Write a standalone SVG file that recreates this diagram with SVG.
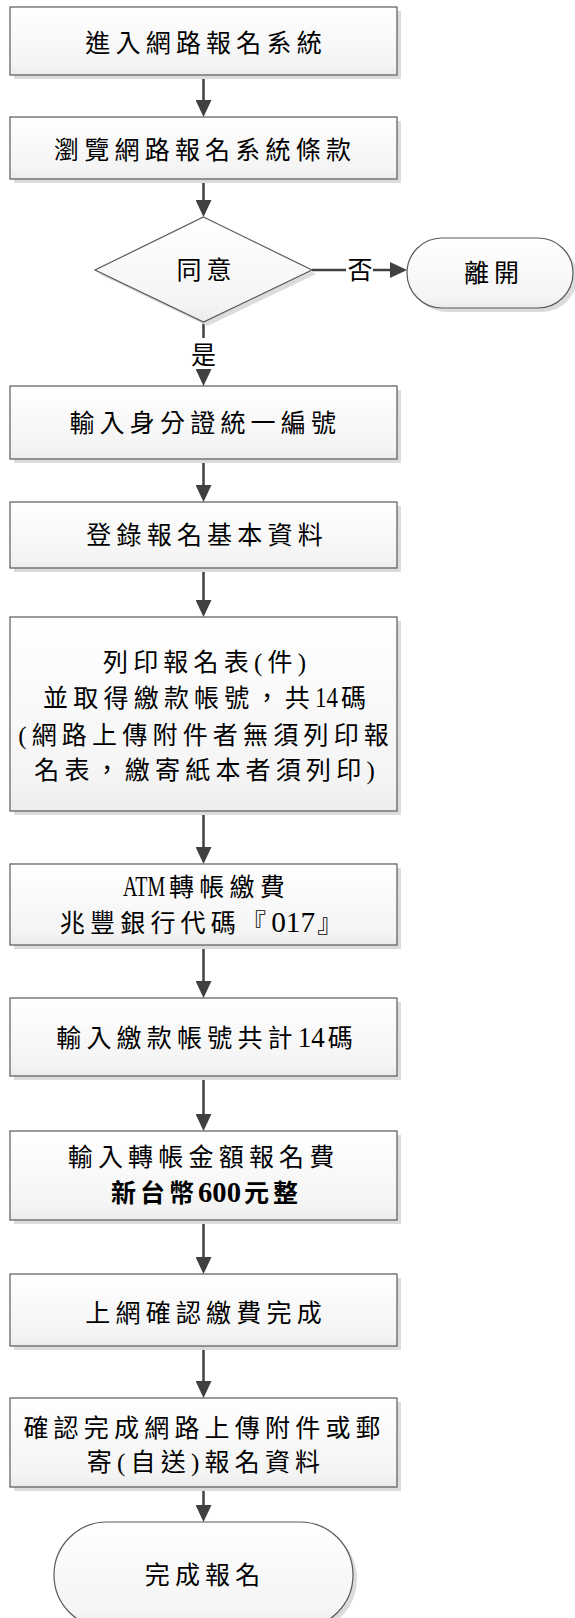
<svg xmlns="http://www.w3.org/2000/svg" width="575" height="1618" viewBox="0 0 575 1618">
<defs>
<linearGradient id="g" x1="0" y1="0" x2="0" y2="1">
<stop offset="0" stop-color="#ffffff"/>
<stop offset="0.85" stop-color="#f4f4f4"/>
<stop offset="1" stop-color="#ebebeb"/>
</linearGradient>
<marker id="ah" viewBox="0 0 17 16" refX="14" refY="8" markerWidth="17" markerHeight="16" markerUnits="userSpaceOnUse" orient="auto">
<path d="M0,0 L17,8 L0,16 z" fill="#404040"/>
</marker>
</defs>
<style>
.box{fill:url(#g);stroke:#595959;stroke-width:1.2}
.sh{fill:#dcdcdc}
.t{font-family:"Liberation Serif","Noto Sans CJK TC",serif;font-size:25px;letter-spacing:5.2px;fill:#000;text-anchor:middle}
.b{font-weight:bold;letter-spacing:4px}
.l{font-size:30px;letter-spacing:0}
.c{fill:none;stroke:#404040;stroke-width:2.5}
</style>
<rect width="575" height="1618" fill="#ffffff"/>

<g id="connectors">
<path class="c" d="M203.5,75 V114" marker-end="url(#ah)"/>
<path class="c" d="M203.5,179 V214" marker-end="url(#ah)"/>
<path class="c" d="M312,270 H346"/>
<path class="c" d="M373,270 H404" marker-end="url(#ah)"/>
<text class="t" x="362.6" y="279">否</text>
<path class="c" d="M203.5,322 V338"/>
<text class="t" x="206.1" y="364">是</text>
<path class="c" d="M203.5,369 V383" marker-end="url(#ah)"/>
<path class="c" d="M203.5,459 V499" marker-end="url(#ah)"/>
<path class="c" d="M203.5,568 V614" marker-end="url(#ah)"/>
<path class="c" d="M203.5,811 V861" marker-end="url(#ah)"/>
<path class="c" d="M203.5,945 V995" marker-end="url(#ah)"/>
<path class="c" d="M203.5,1076 V1128" marker-end="url(#ah)"/>
<path class="c" d="M203.5,1220 V1271" marker-end="url(#ah)"/>
<path class="c" d="M203.5,1346 V1395" marker-end="url(#ah)"/>
<path class="c" d="M203.5,1487 V1519" marker-end="url(#ah)"/>
</g>

<g id="n1">
<rect class="sh" x="14" y="11" width="387" height="68"/>
<rect class="box" x="10" y="7" width="387" height="68"/>
<text class="t" x="206.1" y="52">進入網路報名系統</text>
</g>
<g id="n2">
<rect class="sh" x="14" y="121" width="387" height="62"/>
<rect class="box" x="10" y="117" width="387" height="62"/>
<text class="t" x="205.1" y="159">瀏覽網路報名系統條款</text>
</g>
<g id="n3">
<path class="sh" d="M207.5,221 L316,274 L207.5,326 L99,274 z"/>
<path class="box" d="M203.5,217 L312,270 L203.5,322 L95,270 z"/>
<text class="t" x="206.6" y="279">同意</text>
</g>
<g id="n4">
<rect class="sh" x="411" y="242" width="166" height="70" rx="35"/>
<rect class="box" x="407" y="238" width="166" height="70" rx="35"/>
<text class="t" x="494.1" y="282">離開</text>
</g>
<g id="n5">
<rect class="sh" x="14" y="390" width="387" height="73"/>
<rect class="box" x="10" y="386" width="387" height="73"/>
<text class="t" x="205.3" y="432">輸入身分證統一編號</text>
</g>
<g id="n6">
<rect class="sh" x="14" y="506" width="387" height="66"/>
<rect class="box" x="10" y="502" width="387" height="66"/>
<text class="t" x="207.1" y="544">登錄報名基本資料</text>
</g>
<g id="n7">
<rect class="sh" x="14" y="621" width="387" height="194"/>
<rect class="box" x="10" y="617" width="387" height="194"/>
<text class="t" x="207.1" y="671">列印報名表(件)</text>
<text class="t" x="207.1" y="707">並取得繳款帳號，共<tspan class="l" textLength="23" lengthAdjust="spacingAndGlyphs">14</tspan><tspan dx="3">碼</tspan></text>
<text class="t" x="206.1" y="744">(網路上傳附件者無須列印報</text>
<text class="t" x="207.1" y="779">名表，繳寄紙本者須列印)</text>
</g>
<g id="n8">
<rect class="sh" x="14" y="868" width="387" height="81"/>
<rect class="box" x="10" y="864" width="387" height="81"/>
<text class="t" x="206.5" y="896"><tspan class="l" textLength="42" lengthAdjust="spacingAndGlyphs">ATM</tspan><tspan dx="4">轉帳繳費</tspan></text>
<text class="t" x="203.6" y="932">兆豐銀行代碼『<tspan class="l" textLength="44" lengthAdjust="spacingAndGlyphs">017</tspan><tspan dx="2">』</tspan></text>
</g>
<g id="n9">
<rect class="sh" x="14" y="1002" width="387" height="78"/>
<rect class="box" x="10" y="998" width="387" height="78"/>
<text class="t" x="207.1" y="1047">輸入繳款帳號共計<tspan class="l" textLength="27" lengthAdjust="spacingAndGlyphs">14</tspan><tspan dx="3">碼</tspan></text>
</g>
<g id="n10">
<rect class="sh" x="14" y="1135" width="387" height="89"/>
<rect class="box" x="10" y="1131" width="387" height="89"/>
<text class="t" x="203.6" y="1166">輸入轉帳金額報名費</text>
<text class="t b" x="206.5" y="1202">新台幣<tspan class="l" textLength="43" lengthAdjust="spacingAndGlyphs">600</tspan><tspan dx="3">元整</tspan></text>
</g>
<g id="n11">
<rect class="sh" x="14" y="1278" width="387" height="72"/>
<rect class="box" x="10" y="1274" width="387" height="72"/>
<text class="t" x="206.1" y="1322">上網確認繳費完成</text>
</g>
<g id="n12">
<rect class="sh" x="14" y="1402" width="387" height="89"/>
<rect class="box" x="10" y="1398" width="387" height="89"/>
<text class="t" x="204.6" y="1437">確認完成網路上傳附件或郵</text>
<text class="t" x="206.1" y="1471">寄(自送)報名資料</text>
</g>
<g id="n13">
<rect class="sh" x="58" y="1526" width="299" height="106" rx="53"/>
<rect class="box" x="54" y="1522" width="299" height="106" rx="53"/>
<text class="t" x="205.1" y="1584">完成報名</text>
</g>
</svg>
